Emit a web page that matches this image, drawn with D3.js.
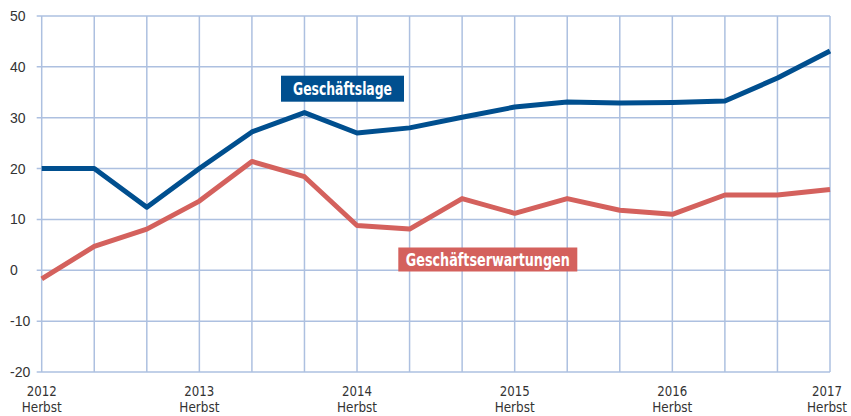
<!DOCTYPE html>
<html><head><meta charset="utf-8">
<script src="https://cdn.jsdelivr.net/npm/d3@7"></script>
<style>
html,body{margin:0;padding:0;background:#fff;}
svg{display:block;}
</style></head>
<body><svg id="c" width="851" height="416"></svg>
<script>
const periods = d3.range(16);
const geschaeftslage = [20, 20, 12.4, 20, 27.2, 31, 27, 28, 30.1, 32.1, 33.1, 32.9, 33.0, 33.3, 37.8, 43.1];
const geschaeftserwartungen = [-1.7, 4.7, 8.1, 13.6, 21.4, 18.4, 8.8, 8.1, 14.1, 11.2, 14.1, 11.8, 11.0, 14.8, 14.8, 15.9];
const yTicks = [50, 40, 30, 20, 10, 0, -10, -20];
const xLabelIndex = [0, 3, 6, 9, 12, 15];
const xLabelYear = ["2012", "2013", "2014", "2015", "2016", "2017"];
const xLabelSeason = ["Herbst", "Herbst", "Herbst", "Herbst", "Herbst", "Herbst"];

const svg = d3.select("#c");
const x = d3.scaleLinear().domain([0, 15]).range([41.7, 830]);
const y = d3.scaleLinear().domain([-20, 50]).range([372, 16]);
const gridColor = "#adc0e0";
const condFont = "'DejaVu Sans Condensed', 'DejaVu Sans', sans-serif";

// horizontal grid
svg.append("g").selectAll("line").data(yTicks).join("line")
  .attr("x1", 36.7).attr("x2", x(15)).attr("y1", d => y(d)).attr("y2", d => y(d))
  .attr("stroke", gridColor).attr("stroke-width", 1.5);
// vertical grid
svg.append("g").selectAll("line").data(periods).join("line")
  .attr("x1", d => x(d)).attr("x2", d => x(d)).attr("y1", y(50)).attr("y2", y(-20))
  .attr("stroke", gridColor).attr("stroke-width", 1.5);

// y labels
svg.append("g").selectAll("text").data(yTicks).join("text")
  .attr("x", 10).attr("y", d => y(d) + 5)
  .attr("font-family", "'Liberation Sans', Arial, sans-serif").attr("font-size", 14)
  .attr("fill", "#333").text(d => d < 0 ? "-" + Math.abs(d) : d);

// x labels
const lx = d => Math.min(x(d), 827);
const xg = svg.append("g");
xg.selectAll("text.yr").data(xLabelIndex).join("text").attr("class", "yr")
  .attr("x", lx).attr("y", 395.5).attr("text-anchor", "middle")
  .attr("font-family", condFont).attr("font-size", 13.5).attr("fill", "#333")
  .attr("textLength", 30).attr("lengthAdjust", "spacingAndGlyphs")
  .text((d, i) => xLabelYear[i]);
xg.selectAll("text.ss").data(xLabelIndex).join("text").attr("class", "ss")
  .attr("x", lx).attr("y", 411.5).attr("text-anchor", "middle")
  .attr("font-family", condFont).attr("font-size", 13.5).attr("fill", "#333")
  .attr("textLength", 40).attr("lengthAdjust", "spacingAndGlyphs")
  .text((d, i) => xLabelSeason[i]);

// lines
const line = d3.line().x((d, i) => x(i)).y(d => y(d));
svg.append("path").datum(geschaeftserwartungen).attr("d", line)
  .attr("fill", "none").attr("stroke", "#d4615d").attr("stroke-width", 5).attr("stroke-linejoin", "round");
svg.append("path").datum(geschaeftslage).attr("d", line)
  .attr("fill", "none").attr("stroke", "#004f8f").attr("stroke-width", 5).attr("stroke-linejoin", "round");

// labels
function boxLabel(txt, bx, by, bw, bh, fill, tw) {
  const g = svg.append("g");
  g.append("rect").attr("x", bx).attr("y", by).attr("width", bw).attr("height", bh).attr("fill", fill);
  g.append("text").attr("x", bx + bw / 2).attr("y", by + bh / 2 + 6.5)
    .attr("text-anchor", "middle").attr("font-family", condFont)
    .attr("font-size", 18).attr("font-weight", 600).attr("fill", "#fff")
    .attr("textLength", tw).attr("lengthAdjust", "spacingAndGlyphs").text(txt);
}
boxLabel("Geschäftslage", 281, 75.7, 123, 26, "#004f8f", 99);
boxLabel("Geschäftserwartungen", 398.3, 247.5, 179, 24, "#d4615d", 164);
</script></body></html>
